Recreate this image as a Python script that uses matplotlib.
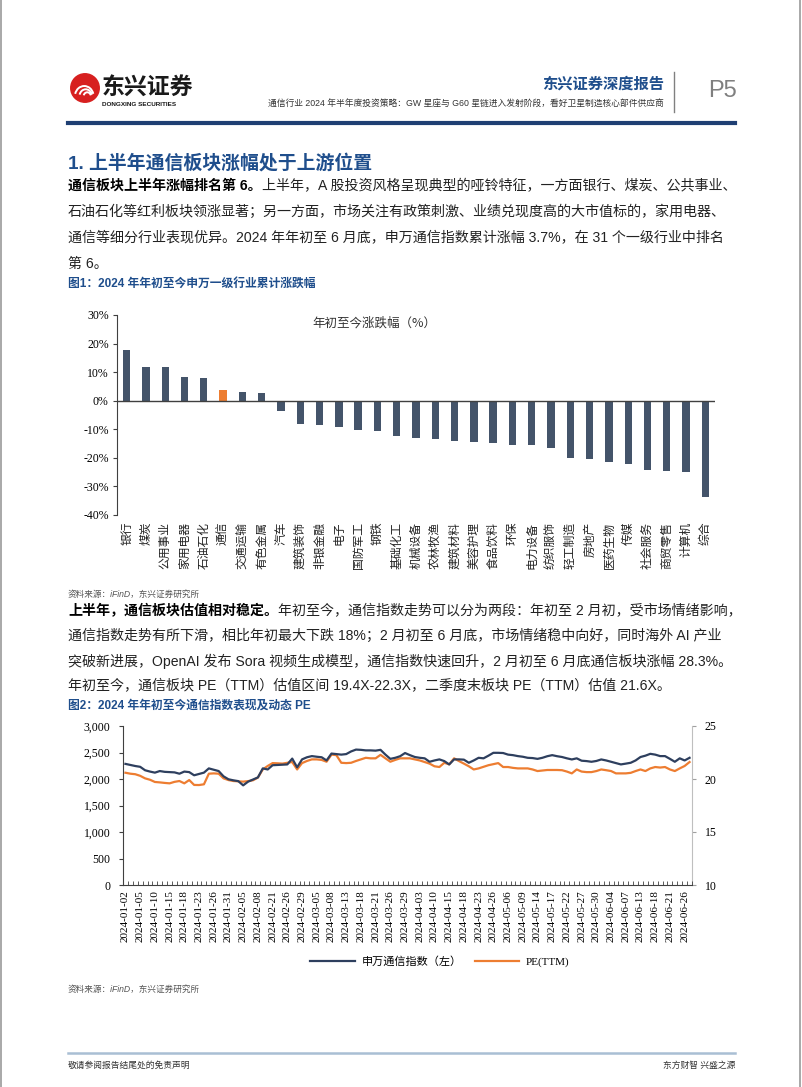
import numpy as np
import matplotlib
matplotlib.use("Agg")
import matplotlib.pyplot as plt
from matplotlib.patches import Circle, Arc
from matplotlib.lines import Line2D

W, H = 802, 1087
CJK = 'Noto Sans CJK SC'
SANS = ['Liberation Sans', CJK]
SERIF = ['Liberation Serif', CJK]
plt.rcParams['font.family'] = SANS

NAVY = '#44546a'
ORANGE = '#ed7d31'
BLUE = '#1f4e8c'

# ---- data: figure 1 ----
industries = ['银行', '煤炭', '公用事业', '家用电器', '石油石化', '通信', '交通运输', '有色金属',
              '汽车', '建筑装饰', '非银金融', '电子', '国防军工', '钢铁', '基础化工', '机械设备',
              '农林牧渔', '建筑材料', '美容护理', '食品饮料', '环保', '电力设备', '纺织服饰',
              '轻工制造', '房地产', '医药生物', '传媒', '社会服务', '商贸零售', '计算机', '综合']
ytd_change = [17.9, 11.9, 11.8, 8.3, 7.8, 3.7, 3.0, 2.7,
              -3.5, -8.3, -8.5, -9.1, -10.2, -10.6, -12.3, -13.1,
              -13.3, -14.0, -14.4, -14.9, -15.4, -15.4, -16.6,
              -20.0, -20.5, -21.3, -22.1, -24.3, -24.7, -25.0, -33.6]

# ---- data: figure 2 (one value per trading day, 2024-01-02 .. 2024-06-28) ----
date_labels = ['2024-01-02', '2024-01-05', '2024-01-10', '2024-01-15', '2024-01-18', '2024-01-23',
               '2024-01-26', '2024-01-31', '2024-02-05', '2024-02-08', '2024-02-21', '2024-02-26',
               '2024-02-29', '2024-03-05', '2024-03-08', '2024-03-13', '2024-03-18', '2024-03-21',
               '2024-03-26', '2024-03-29', '2024-04-03', '2024-04-10', '2024-04-15', '2024-04-18',
               '2024-04-23', '2024-04-26', '2024-05-06', '2024-05-09', '2024-05-14', '2024-05-17',
               '2024-05-22', '2024-05-27', '2024-05-30', '2024-06-04', '2024-06-07', '2024-06-13',
               '2024-06-18', '2024-06-21', '2024-06-26']
sw_index = [2285, 2265, 2245, 2230, 2165, 2140, 2120, 2150, 2135, 2130,
            2125, 2100, 2140, 2130, 2070, 2095, 2120, 2200, 2175, 2150,
            2050, 1995, 1975, 1960, 1880, 1950, 1990, 2030, 2200, 2180,
            2260, 2265, 2270, 2275, 2385, 2220, 2370, 2410, 2432, 2420,
            2410, 2350, 2480, 2470, 2460, 2470, 2520, 2555, 2550, 2540,
            2540, 2535, 2550, 2460, 2380, 2400, 2430, 2490, 2450, 2415,
            2400, 2390, 2325, 2350, 2370, 2338, 2275, 2370, 2370, 2365,
            2306, 2350, 2400, 2390, 2440, 2494, 2494, 2490, 2460, 2450,
            2432, 2420, 2400, 2395, 2380, 2400, 2430, 2450, 2430, 2415,
            2390, 2369, 2390, 2345, 2338, 2325, 2340, 2369, 2350, 2325,
            2300, 2275, 2290, 2306, 2350, 2415, 2440, 2475, 2460, 2432,
            2432, 2380, 2325, 2390, 2350, 2400]
pe_ttm = [20.59, 20.50, 20.45, 20.30, 20.06, 19.93, 19.72, 19.68, 19.63, 19.59,
          19.73, 19.81, 19.59, 19.90, 19.44, 19.43, 19.50, 20.50, 20.53, 20.50,
          20.06, 19.90, 19.81, 19.78, 19.75, 19.80, 19.88, 20.13, 20.90, 21.23,
          21.50, 21.48, 21.45, 21.53, 21.60, 20.90, 21.50, 21.70, 21.85, 21.85,
          21.80, 21.63, 22.30, 22.25, 21.53, 21.50, 21.53, 21.70, 21.85, 22.00,
          21.95, 21.95, 22.28, 21.95, 21.63, 21.80, 21.95, 21.95, 21.95, 21.85,
          21.75, 21.60, 21.45, 21.20, 21.13, 21.53, 21.38, 21.95, 21.69, 21.45,
          21.20, 20.90, 21.00, 21.15, 21.30, 21.40, 21.50, 21.13, 21.13, 21.05,
          21.00, 21.00, 21.00, 20.90, 20.75, 20.80, 20.85, 20.85, 20.85, 20.83,
          20.70, 20.53, 20.90, 20.70, 20.65, 20.65, 20.75, 20.90, 20.83, 20.75,
          20.53, 20.53, 20.53, 20.58, 20.75, 20.90, 20.75, 21.00, 21.13, 21.08,
          21.13, 20.90, 20.75, 21.00, 21.23, 21.60]

fig = plt.figure(figsize=(W / 100, H / 100), dpi=100)


def fx(x):
    return x / W


def fy(y):
    return 1 - y / H


def put(x, y, s, **kw):
    kw.setdefault('va', 'center')
    return fig.text(fx(x), fy(y), s, **kw)


def axes_px(x0, y0, x1, y1):
    return fig.add_axes([fx(x0), fy(y1), (x1 - x0) / W, (y1 - y0) / H])


def hline(x0, x1, y, color, lw):
    fig.add_artist(Line2D([fx(x0), fx(x1)], [fy(y), fy(y)], color=color, lw=lw))


renderer = fig.canvas.get_renderer()


def para_line(y, bold, rest, size=10.1):
    x = 68
    if bold:
        t = put(x, y, bold, fontsize=size, fontweight='bold', color='black')
        bb = t.get_window_extent(renderer=renderer)
        x = bb.x1
    put(x, y, rest, fontsize=size, color='#222222')


# ---- page border ----
fig.add_artist(Line2D([0.001, 0.001], [0, 1], color='#9a9a9a', lw=1.2))
fig.add_artist(Line2D([0.998, 0.998], [0, 1], color='#9a9a9a', lw=1.2))

# ---- header ----
logo = fig.add_axes([fx(70), fy(103), 30 / W, 30 / H])
logo.set_xlim(-1, 1)
logo.set_ylim(-1, 1)
logo.set_aspect('equal')
logo.axis('off')
logo.add_patch(Circle((0, 0), 0.95, color='#d7201f'))
# stylised white swooshes inside the logo
for dx, r in [(-0.05, 0.62), (0.05, 0.42), (0.15, 0.24)]:
    logo.add_patch(Arc((dx, -0.55), 2 * r, 2.2 * r, theta1=15, theta2=165, color='white', lw=1.4))
put(102, 87, '东兴证券', fontsize=16.5, fontweight='heavy', color='#1a1a1a', family=CJK)
put(102, 104, 'DONGXING SECURITIES', fontsize=4.6, fontweight='bold', color='#1a1a1a')
put(664, 84, '东兴证券深度报告', fontsize=11, fontweight='bold', color=BLUE, ha='right', family=CJK)
put(664, 104, '通信行业 2024 年半年度投资策略：GW 星座与 G60 星链进入发射阶段，看好卫星制造核心部件供应商',
    fontsize=6.3, color='#333333', ha='right')
fig.add_artist(Line2D([fx(674), fx(674)], [fy(72), fy(112)], color='#808080', lw=1))
put(708, 91, 'P5', fontsize=17, color='#7f7f7f')
hline(68, 735, 123, '#1f3f73', 3)

# ---- section 1 text ----
put(68, 163, '1. 上半年通信板块涨幅处于上游位置', fontsize=13.6, fontweight='bold', color=BLUE)
para_line(186, '通信板块上半年涨幅排名第 6。', '上半年，A 股投资风格呈现典型的哑铃特征，一方面银行、煤炭、公共事业、')
para_line(212, '', '石油石化等红利板块领涨显著；另一方面，市场关注有政策刺激、业绩兑现度高的大市值标的，家用电器、')
para_line(238, '', '通信等细分行业表现优异。2024 年年初至 6 月底，申万通信指数累计涨幅 3.7%，在 31 个一级行业中排名')
para_line(264, '', '第 6。')
put(68, 284, '图1：2024 年年初至今申万一级行业累计涨跌幅', fontsize=8.5, fontweight='bold', color=BLUE)

# ---- figure 1: bar chart ----
ax1 = axes_px(117, 315, 715, 515)
xpos = np.arange(len(industries))
colors = [ORANGE if n == '通信' else NAVY for n in industries]
ax1.bar(xpos, ytd_change, width=0.38, color=colors, zorder=2)
ax1.axhline(0, color='#404040', lw=1, zorder=3)
ax1.set_xlim(-0.5, len(industries) - 0.5)
ax1.set_ylim(-40, 30)
ax1.set_yticks(np.arange(-40, 31, 10))
ax1.set_yticklabels([f'{v}%' for v in range(-40, 31, 10)], family=SERIF, fontsize=8.5)
ax1.set_xticks(xpos)
ax1.set_xticklabels(industries, rotation=90, family=CJK, fontsize=8.5, color='#222222')
ax1.tick_params(axis='x', length=0, pad=5)
ax1.tick_params(axis='y', length=3, width=0.8, color='#404040', pad=3)
for s in ['top', 'right', 'bottom']:
    ax1.spines[s].set_visible(False)
ax1.spines['left'].set_color('#404040')
ax1.text(0.43, 0.96, '年初至今涨跌幅（%）', transform=ax1.transAxes, ha='center', va='center',
         fontsize=9, family=CJK, color='#333333')

put(68, 594, '资料来源：iFinD，东兴证券研究所', fontsize=6.2, style='italic', color='#555555')

# ---- section 2 text ----
para_line(611, '上半年，通信板块估值相对稳定。', '年初至今，通信指数走势可以分为两段：年初至 2 月初，受市场情绪影响，')
para_line(636, '', '通信指数走势有所下滑，相比年初最大下跌 18%；2 月初至 6 月底，市场情绪稳中向好，同时海外 AI 产业')
para_line(661, '', '突破新进展，OpenAI 发布 Sora 视频生成模型，通信指数快速回升，2 月初至 6 月底通信板块涨幅 28.3%。')
para_line(686, '', '年初至今，通信板块 PE（TTM）估值区间 19.4X-22.3X，二季度末板块 PE（TTM）估值 21.6X。')
put(68, 706, '图2：2024 年年初至今通信指数表现及动态 PE', fontsize=8.5, fontweight='bold', color=BLUE)

# ---- figure 2: dual-axis line chart ----
ax2 = axes_px(123, 726, 692, 885)
xi = np.arange(len(sw_index))
ax2.set_xlim(-0.5, len(sw_index) - 0.5)
ax2.set_ylim(0, 3000)
ax2.set_yticks(np.arange(0, 3001, 500))
ax2.set_yticklabels([f'{v:,}' for v in range(0, 3001, 500)], family=SERIF, fontsize=8.5)
ax2.set_xticks(xi[::3])
ax2.set_xticklabels(date_labels, rotation=90, family=SERIF, fontsize=8)
ax2.set_xticks(np.arange(-0.5, len(sw_index), 1), minor=True)
ax2.tick_params(axis='x', which='major', length=0, pad=4)
ax2.tick_params(axis='x', which='minor', direction='in', length=3, width=0.6, color='#404040')
ax2.tick_params(axis='y', length=3, width=0.8, color='#404040', pad=6)
ax2.spines['top'].set_visible(False)
ax2.spines['right'].set_visible(False)
ax2.spines['left'].set_color('#404040')
ax2.spines['bottom'].set_color('#404040')

ax3 = ax2.twinx()
ax3.plot(xi, pe_ttm, color=ORANGE, lw=1.6)
ax3.set_ylim(10, 25)
ax3.set_yticks([10, 15, 20, 25])
ax3.set_yticklabels(['10', '15', '20', '25'], family=SERIF, fontsize=8.5)
ax3.tick_params(axis='y', length=3, width=0.8, color='#a0a0a0', pad=6)
for s in ['top', 'left', 'bottom']:
    ax3.spines[s].set_visible(False)
ax3.spines['right'].set_color('#bfbfbf')

# index line on ax2, drawn above the PE line
ax2.set_zorder(ax3.get_zorder() + 1)
ax2.patch.set_visible(False)
ax2.plot(xi, sw_index, color='#2e3f5e', lw=1.6)

handles = [Line2D([], [], color='#2e3f5e', lw=1.6), Line2D([], [], color=ORANGE, lw=1.6)]
fig.legend(handles, ['申万通信指数（左）', 'PE(TTM)'], loc='center', bbox_to_anchor=(fx(440), fy(962)),
           ncol=2, frameon=False, handlelength=4, columnspacing=1.2, handletextpad=0.6,
           prop={'family': SERIF, 'size': 8})

put(68, 989, '资料来源：iFinD，东兴证券研究所', fontsize=6.2, style='italic', color='#555555')

# ---- footer ----
hline(68, 735, 1053, '#a9bfd4', 1.8)
put(68, 1065, '敬请参阅报告结尾处的免责声明', fontsize=6.3, color='#333333')
put(735, 1065, '东方财智 兴盛之源', fontsize=6.3, color='#333333', ha='right')

fig.savefig('out.png', dpi=100)
